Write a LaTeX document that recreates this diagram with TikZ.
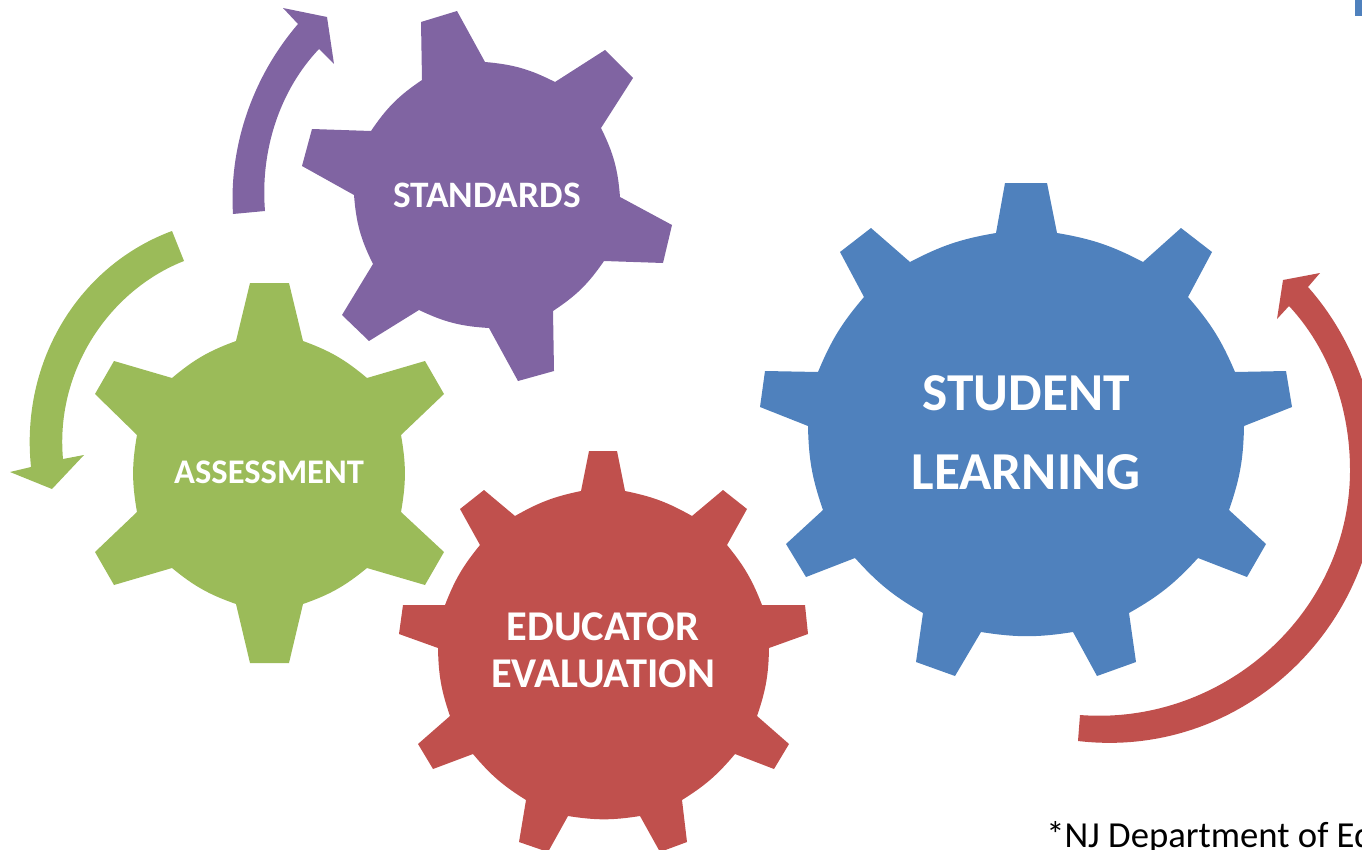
\documentclass[tikz,border=0pt]{standalone}
\usepackage{fontspec}
\setmainfont{Carlito}
\definecolor{gearblue}{HTML}{4F81BD}
\definecolor{gearred}{HTML}{C0504D}
\definecolor{geargreen}{HTML}{9BBB59}
\definecolor{gearpurple}{HTML}{8064A2}
\tikzset{
  rim/.style={bend left=#1},
  gearlabel/.style={text=white,align=center,inner sep=0pt},
}
\begin{document}
\begin{tikzpicture}[x=0.75pt,y=-0.75pt]
\useasboundingbox (0,0) rectangle (1362,849);
\clip (0,0) rectangle (1362,849);
% top-right fragment
\fill[gearblue] (1355,0) rectangle (1362,16);
% arrows
\fill[gearpurple] (233,214) .. controls (229,150) and (250,80) .. (298,24)
  -- (283,8) -- (327,17) -- (334,64) -- (319,49)
  .. controls (280,90) and (260,150) .. (265,211) -- cycle;
\fill[geargreen] (172,231) .. controls (80,265) and (20,360) .. (31,467)
  -- (10,472) -- (52,489) -- (84,455) -- (63,459)
  .. controls (55,370) and (110,290) .. (184,261) -- cycle;
\fill[gearred] (1308,287) -- (1320,273) -- (1283,280) -- (1277,319) -- (1289,306)
  .. controls (1330,350) and (1350,410) .. (1350,470)
  .. controls (1350,613) and (1223,726) .. (1080,715)
  -- (1078,741)
  .. controls (1240,760) and (1378,630) .. (1378,470)
  .. controls (1378,410) and (1355,340) .. (1308,287) -- cycle;
% purple gear
\fill[gearpurple] (421,22) -- (457,11) -- (485,62) to[rim=11] (555,82)
  -- (605,50) -- (633,78) -- (601,128) to[rim=11] (620,197)
  -- (672,225) -- (663,263) -- (604,261) to[rim=11] (553,311)
  -- (554,371) -- (518,381) -- (489,328) to[rim=11] (419,310)
  -- (369,341) -- (342,315) -- (373,264) to[rim=11] (354,195)
  -- (302,166) -- (312,129) -- (371,131) to[rim=11] (422,80) -- cycle;
% green gear
\fill[geargreen] (250,283) -- (289,283) -- (303,341) to[rim=10] (367,378)
  -- (425,361) -- (444,394) -- (401,435) to[rim=10] (401,512)
  -- (444,552) -- (425,585) -- (367,568) to[rim=10] (303,604)
  -- (289,663) -- (250,663) -- (236,604) to[rim=10] (172,568)
  -- (114,585) -- (95,552) -- (137,512) to[rim=10] (137,435)
  -- (95,394) -- (114,361) -- (172,378) to[rim=10] (236,341) -- cycle;
% red gear
\fill[gearred] (589,451) -- (617,451) -- (625,491) to[rim=9] (692,516)
  -- (723,490) -- (747,509) -- (727,545) to[rim=9] (762,605)
  -- (805,605) -- (808,634) -- (769,648) to[rim=9] (757,716)
  -- (789,744) -- (774,769) -- (735,754) to[rim=9] (682,800)
  -- (687,842) -- (660,852) -- (640,816) to[rim=9] (568,816)
  -- (548,852) -- (519,842) -- (526,800) to[rim=9] (473,754)
  -- (433,769) -- (418,744) -- (450,716) to[rim=9] (438,648)
  -- (399,634) -- (403,605) -- (445,605) to[rim=9] (480,545)
  -- (460,509) -- (484,490) -- (515,516) to[rim=9] (581,491) -- cycle;
% blue gear
\fill[gearblue] (1005,183) -- (1047,183) -- (1057,233) to[rim=9] (1143,262)
  -- (1181,228) -- (1212,252) -- (1188,297) to[rim=9] (1235,372)
  -- (1286,371) -- (1292,407) -- (1244,426) to[rim=9] (1229,510)
  -- (1266,544) -- (1247,577) -- (1198,558) to[rim=9] (1129,613)
  -- (1136,662) -- (1097,676) -- (1073,632) to[rim=9] (981,632)
  -- (955,676) -- (916,662) -- (923,613) to[rim=9] (855,558)
  -- (806,577) -- (786,544) -- (823,510) to[rim=9] (808,426)
  -- (760,407) -- (765,371) -- (818,372) to[rim=9] (864,297)
  -- (840,252) -- (871,228) -- (910,262) to[rim=9] (996,233) -- cycle;
% labels
\node[gearlabel,font=\fontsize{28}{33}\selectfont\bfseries] (standards) at (487,195) {STANDARDS};
\node[gearlabel,font=\fontsize{25.9}{31}\selectfont\bfseries] (assessment) at (269,472) {ASSESSMENT};
\node[gearlabel,font=\fontsize{31.8}{35.2}\selectfont\bfseries] (educator) at (603,650) {EDUCATOR\\EVALUATION};
\node[gearlabel,font=\fontsize{40}{59.2}\selectfont\bfseries] (student) at (1026,433) {STUDENT\\LEARNING};
\node[anchor=base west,inner sep=0pt,text=black,font=\fontsize{27.5}{32}\selectfont] (source) at (1046,847) {*NJ Department of Ed};
\end{tikzpicture}
\end{document}
